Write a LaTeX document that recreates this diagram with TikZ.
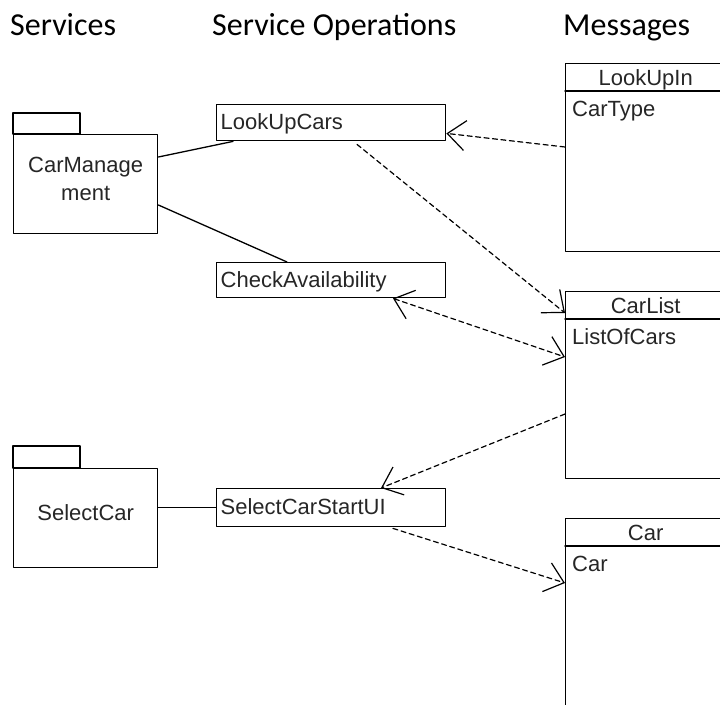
\documentclass[tikz,border=0pt]{standalone}
\usepackage{fontspec}
\setmainfont{Liberation Sans}
\newfontfamily\headfont{Carlito}
\usetikzlibrary{arrows.meta,calc}

\tikzset{
  heading/.style={anchor=base west, inner sep=0pt, font=\headfont\fontsize{32}{36}\selectfont},
  txt/.style={font=\fontsize{22}{28}\selectfont, text=black!85},
  opbox/.style={draw, txt, line width=1.4pt, anchor=north west, minimum width=229pt, minimum height=36pt,
    text width=221pt, inner sep=4pt, text height=16pt, text depth=2pt},
  pkgbody/.style={draw, line width=1.4pt, anchor=north west, minimum width=144pt, minimum height=99pt, inner sep=0pt},
  msgbox/.style={draw, line width=1.4pt, anchor=north west, minimum width=160pt, inner sep=0pt},
  flow/.style={line width=1.3pt},
  dep/.style={line width=1.2pt, dash pattern=on 5pt off 3.5pt, -{Straight Barb[length=18pt, width=30pt, line width=1.2pt]}},
  depboth/.style={line width=1.2pt, dash pattern=on 5pt off 3.5pt,
    {Straight Barb[length=18pt, width=30pt, line width=1.2pt]}-{Straight Barb[length=18pt, width=30pt, line width=1.2pt]}},
}

\begin{document}
\begin{tikzpicture}[x=1pt, y=-1pt, line join=round, line cap=round]
  \clip (0,0) rectangle (720,704);

  % column headings
  \node[heading] (hsrv) at (10,35) {Services};
  \node[heading] (hops) at (212,35) {Service Operations};
  \node[heading] (hmsg) at (563,35) {Messages};

  % services
  \node[pkgbody] (carmgmt) at (13,134) {};
  \draw[line width=1.4pt] (carmgmt.north west) rectangle ++(67,-21);
  \node[txt, align=center] (carmgmtlbl) at ($(carmgmt.center)+(0,-5)$) {CarManage\\ment};

  \node[pkgbody] (selcar) at (13,468) {};
  \draw[line width=1.4pt] (selcar.north west) rectangle ++(67,-22);
  \node[txt] (selcarlbl) at ($(selcar.center)+(0,-6)$) {SelectCar};

  % service operations
  \node[opbox] (lookupcars) at (216,104) {LookUpCars};
  \node[opbox, minimum height=35pt] (checkavail) at (216,262) {CheckAvailability};
  \node[opbox, minimum height=38pt] (selstart) at (216,488) {SelectCarStartUI};

  % messages
  \node[msgbox, minimum height=188pt] (lookupin) at (565,63) {};
  \node[msgbox, minimum height=187pt] (carlist) at (565,291) {};
  \node[msgbox, minimum height=200pt] (car) at (565,518) {};
  \foreach \m/\t/\a in {lookupin/LookUpIn/CarType, carlist/CarList/ListOfCars, car/Car/Car} {
    \draw[line width=1.4pt] ($(\m.north west)+(0,28)$) -- ($(\m.north east)+(0,28)$);
    \node[txt, anchor=base, inner sep=0pt] (\m-title) at ($(\m.north)+(0,22)$) {\t};
    \node[txt, anchor=base west, inner sep=0pt] (\m-attr) at ($(\m.north west)+(7,53)$) {\a};
  }

  % service -- operation
  \draw[flow] ($(carmgmt.north east)+(0,23)$) -- ($(lookupcars.south west)+(17,0)$);
  \draw[flow] ($(carmgmt.north east)+(0,71)$) -- ($(checkavail.north west)+(71,0)$);
  \draw[flow] (selcar.east |- selstart.west) -- (selstart.west);

  % message dependencies
  \draw[dep] ($(lookupin.north west)+(0,84)$) -- ($(lookupcars.south east)+(0,-8)$);
  \draw[dep] ($(lookupcars.south west)+(141,3)$) -- ($(carlist.north west)+(0,22)$);
  \draw[depboth] ($(checkavail.south west)+(177,0)$) -- ($(carlist.north west)+(0,66)$);
  \draw[dep] ($(carlist.north west)+(0,123)$) -- ($(selstart.north west)+(165,0)$);
  \draw[dep] ($(selstart.south west)+(177,1)$) -- ($(car.north west)+(0,65)$);
\end{tikzpicture}
\end{document}
